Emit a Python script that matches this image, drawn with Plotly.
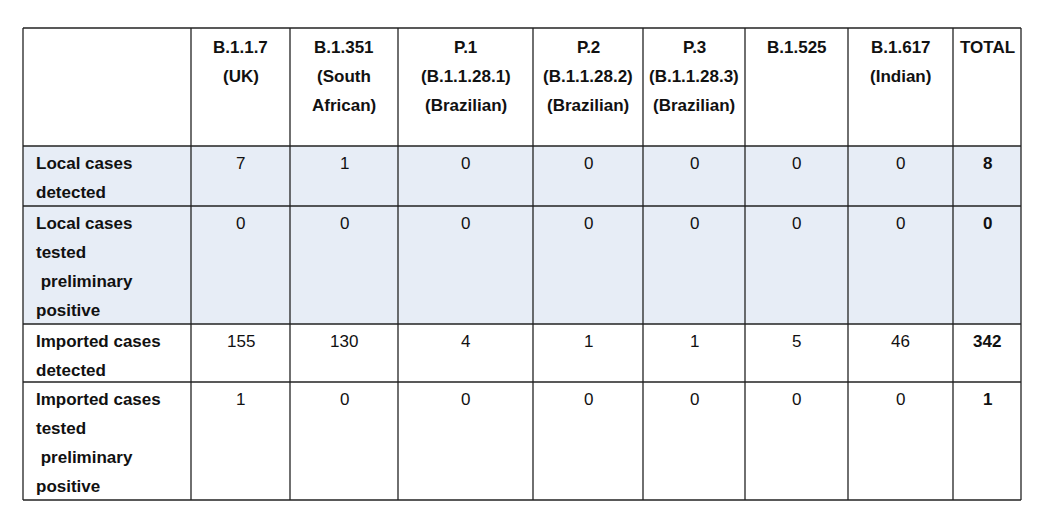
import plotly.graph_objects as go

headers = [["B.1.1.7", "(UK)"], ["B.1.351", "(South", "African)"],
           ["P.1", "(B.1.1.28.1)", "(Brazilian)"], ["P.2", "(B.1.1.28.2)", "(Brazilian)"],
           ["P.3", "(B.1.1.28.3)", "(Brazilian)"], ["B.1.525"], ["B.1.617", "(Indian)"], ["TOTAL"]]
row_labels = [["Local cases", "detected"],
              ["Local cases", "tested", "\u00a0preliminary", "positive"],
              ["Imported cases", "detected"],
              ["Imported cases", "tested", "\u00a0preliminary", "positive"]]
values = [[7, 1, 0, 0, 0, 0, 0, 8],
          [0, 0, 0, 0, 0, 0, 0, 0],
          [155, 130, 4, 1, 1, 5, 46, 342],
          [1, 0, 0, 0, 0, 0, 0, 1]]
shaded = [True, True, False, False]

# layout geometry (pixels)
xs = [15, 183, 282, 390, 525, 635, 737, 840, 945, 1013]
ys = [20, 138, 198, 316, 374, 492]
LH = 29
FONT = "Liberation Sans, Arial, sans-serif"

fig = go.Figure()
shapes, ann = [], []
for r in range(4):
    if shaded[r]:
        shapes.append(dict(type="rect", x0=xs[0], x1=xs[-1], y0=ys[r+1], y1=ys[r+2],
                           fillcolor="#e7edf6", line_width=0, layer="below"))
for x in xs:
    shapes.append(dict(type="line", x0=x, x1=x, y0=ys[0], y1=ys[-1], line=dict(color="#222", width=1.3)))
for y in ys:
    shapes.append(dict(type="line", x0=xs[0], x1=xs[-1], y0=y, y1=y, line=dict(color="#222", width=1.3)))

def txt(x, y, s, bold=False, xanchor="center"):
    ann.append(dict(x=x, y=y, text=f"<b>{s}</b>" if bold else s, showarrow=False,
                    xanchor=xanchor, yanchor="middle", font=dict(family=FONT, size=17, color="#111")))

for c, h in enumerate(headers):
    cx = (xs[c+1] + xs[c+2]) / 2
    for i, line in enumerate(h):
        txt(cx, 39 + i * LH, line, bold=True)
for r in range(4):
    top = ys[r+1] + 17
    for i, line in enumerate(row_labels[r]):
        txt(xs[0] + 11, top + i * LH, line, bold=True, xanchor="left")
    for c, v in enumerate(values[r]):
        cx = (xs[c+1] + xs[c+2]) / 2
        txt(cx, top, str(v), bold=(c == 7))

fig.update_layout(width=1050, height=516, margin=dict(l=0, r=0, t=0, b=0),
                  paper_bgcolor="white", plot_bgcolor="white",
                  xaxis=dict(range=[0, 1050], visible=False, fixedrange=True),
                  yaxis=dict(range=[516, 0], visible=False, fixedrange=True),
                  shapes=shapes, annotations=ann, showlegend=False)
fig.write_html("out.html")
